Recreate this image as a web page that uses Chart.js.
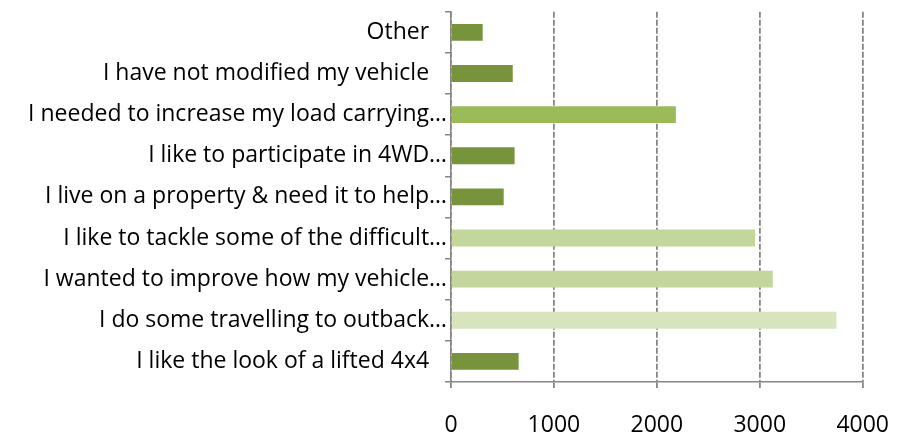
<!DOCTYPE html>
<html>
<head>
<meta charset="utf-8">
<script src="https://cdn.jsdelivr.net/npm/chart.js@4"></script>
<style>
  html, body { margin: 0; padding: 0; background: #fff; }
  #wrap { width: 913px; height: 437px; }
</style>
</head>
<body>
<div id="wrap"><canvas id="reasonsChart"></canvas></div>
<script>
// categories, top to bottom (trailing nbsp keep the short labels off the axis)
const categories = [
  "Other\u00A0\u00A0\u00A0",
  "I have not modified my vehicle\u00A0\u00A0\u00A0",
  "I needed to increase my load carrying…",
  "I like to participate in 4WD…",
  "I live on a property & need it to help…",
  "I like to tackle some of the difficult…",
  "I wanted to improve how my vehicle…",
  "I do some travelling to outback…",
  "I like the look of a lifted 4x4\u00A0\u00A0\u00A0"
];
const responses = [308, 600, 2185, 618, 512, 2954, 3126, 3745, 657];
const barColors = [
  "#77933C", "#77933C", "#9BBB59", "#77933C", "#77933C",
  "#C3D69B", "#C3D69B", "#D7E4BD", "#77933C"
];
const xTicks = [0, 1000, 2000, 3000, 4000];

const axisGray = "#868686";
const font = { family: "'Open Sans', sans-serif", size: 23 };

new Chart(document.getElementById("reasonsChart"), {
  type: "bar",
  data: {
    labels: categories,
    datasets: [{
      data: responses,
      backgroundColor: barColors,
      borderWidth: 0,
      barPercentage: 0.41,
      categoryPercentage: 1
    }]
  },
  options: {
    indexAxis: "y",
    responsive: true,
    maintainAspectRatio: false,
    animation: false,
    layout: { padding: { top: 10, right: 50, bottom: 0, left: 0 } },
    plugins: { legend: { display: false }, tooltip: { enabled: false } },
    scales: {
      x: {
        min: 0,
        max: 4000,
        afterBuildTicks: (scale) => { scale.ticks = xTicks.map(v => ({ value: v })); },
        afterFit: (scale) => { scale.height = 55; },
        grid: { color: axisGray, lineWidth: 1.8, tickLength: 6 },
        border: { display: true, color: axisGray, width: 1.5, dash: [6, 2] },
        ticks: {
          color: "#000", font: font, padding: 24, maxRotation: 0,
          callback: (v) => String(v)
        }
      },
      y: {
        afterFit: (scale) => { scale.width = 451; },
        grid: { drawOnChartArea: false, drawTicks: true, tickLength: 6, color: axisGray, lineWidth: 1.5 },
        border: { display: true, color: axisGray, width: 1.5 },
        ticks: { color: "#000", font: font, padding: -2, autoSkip: false }
      }
    }
  }
});
</script>
</body>
</html>
